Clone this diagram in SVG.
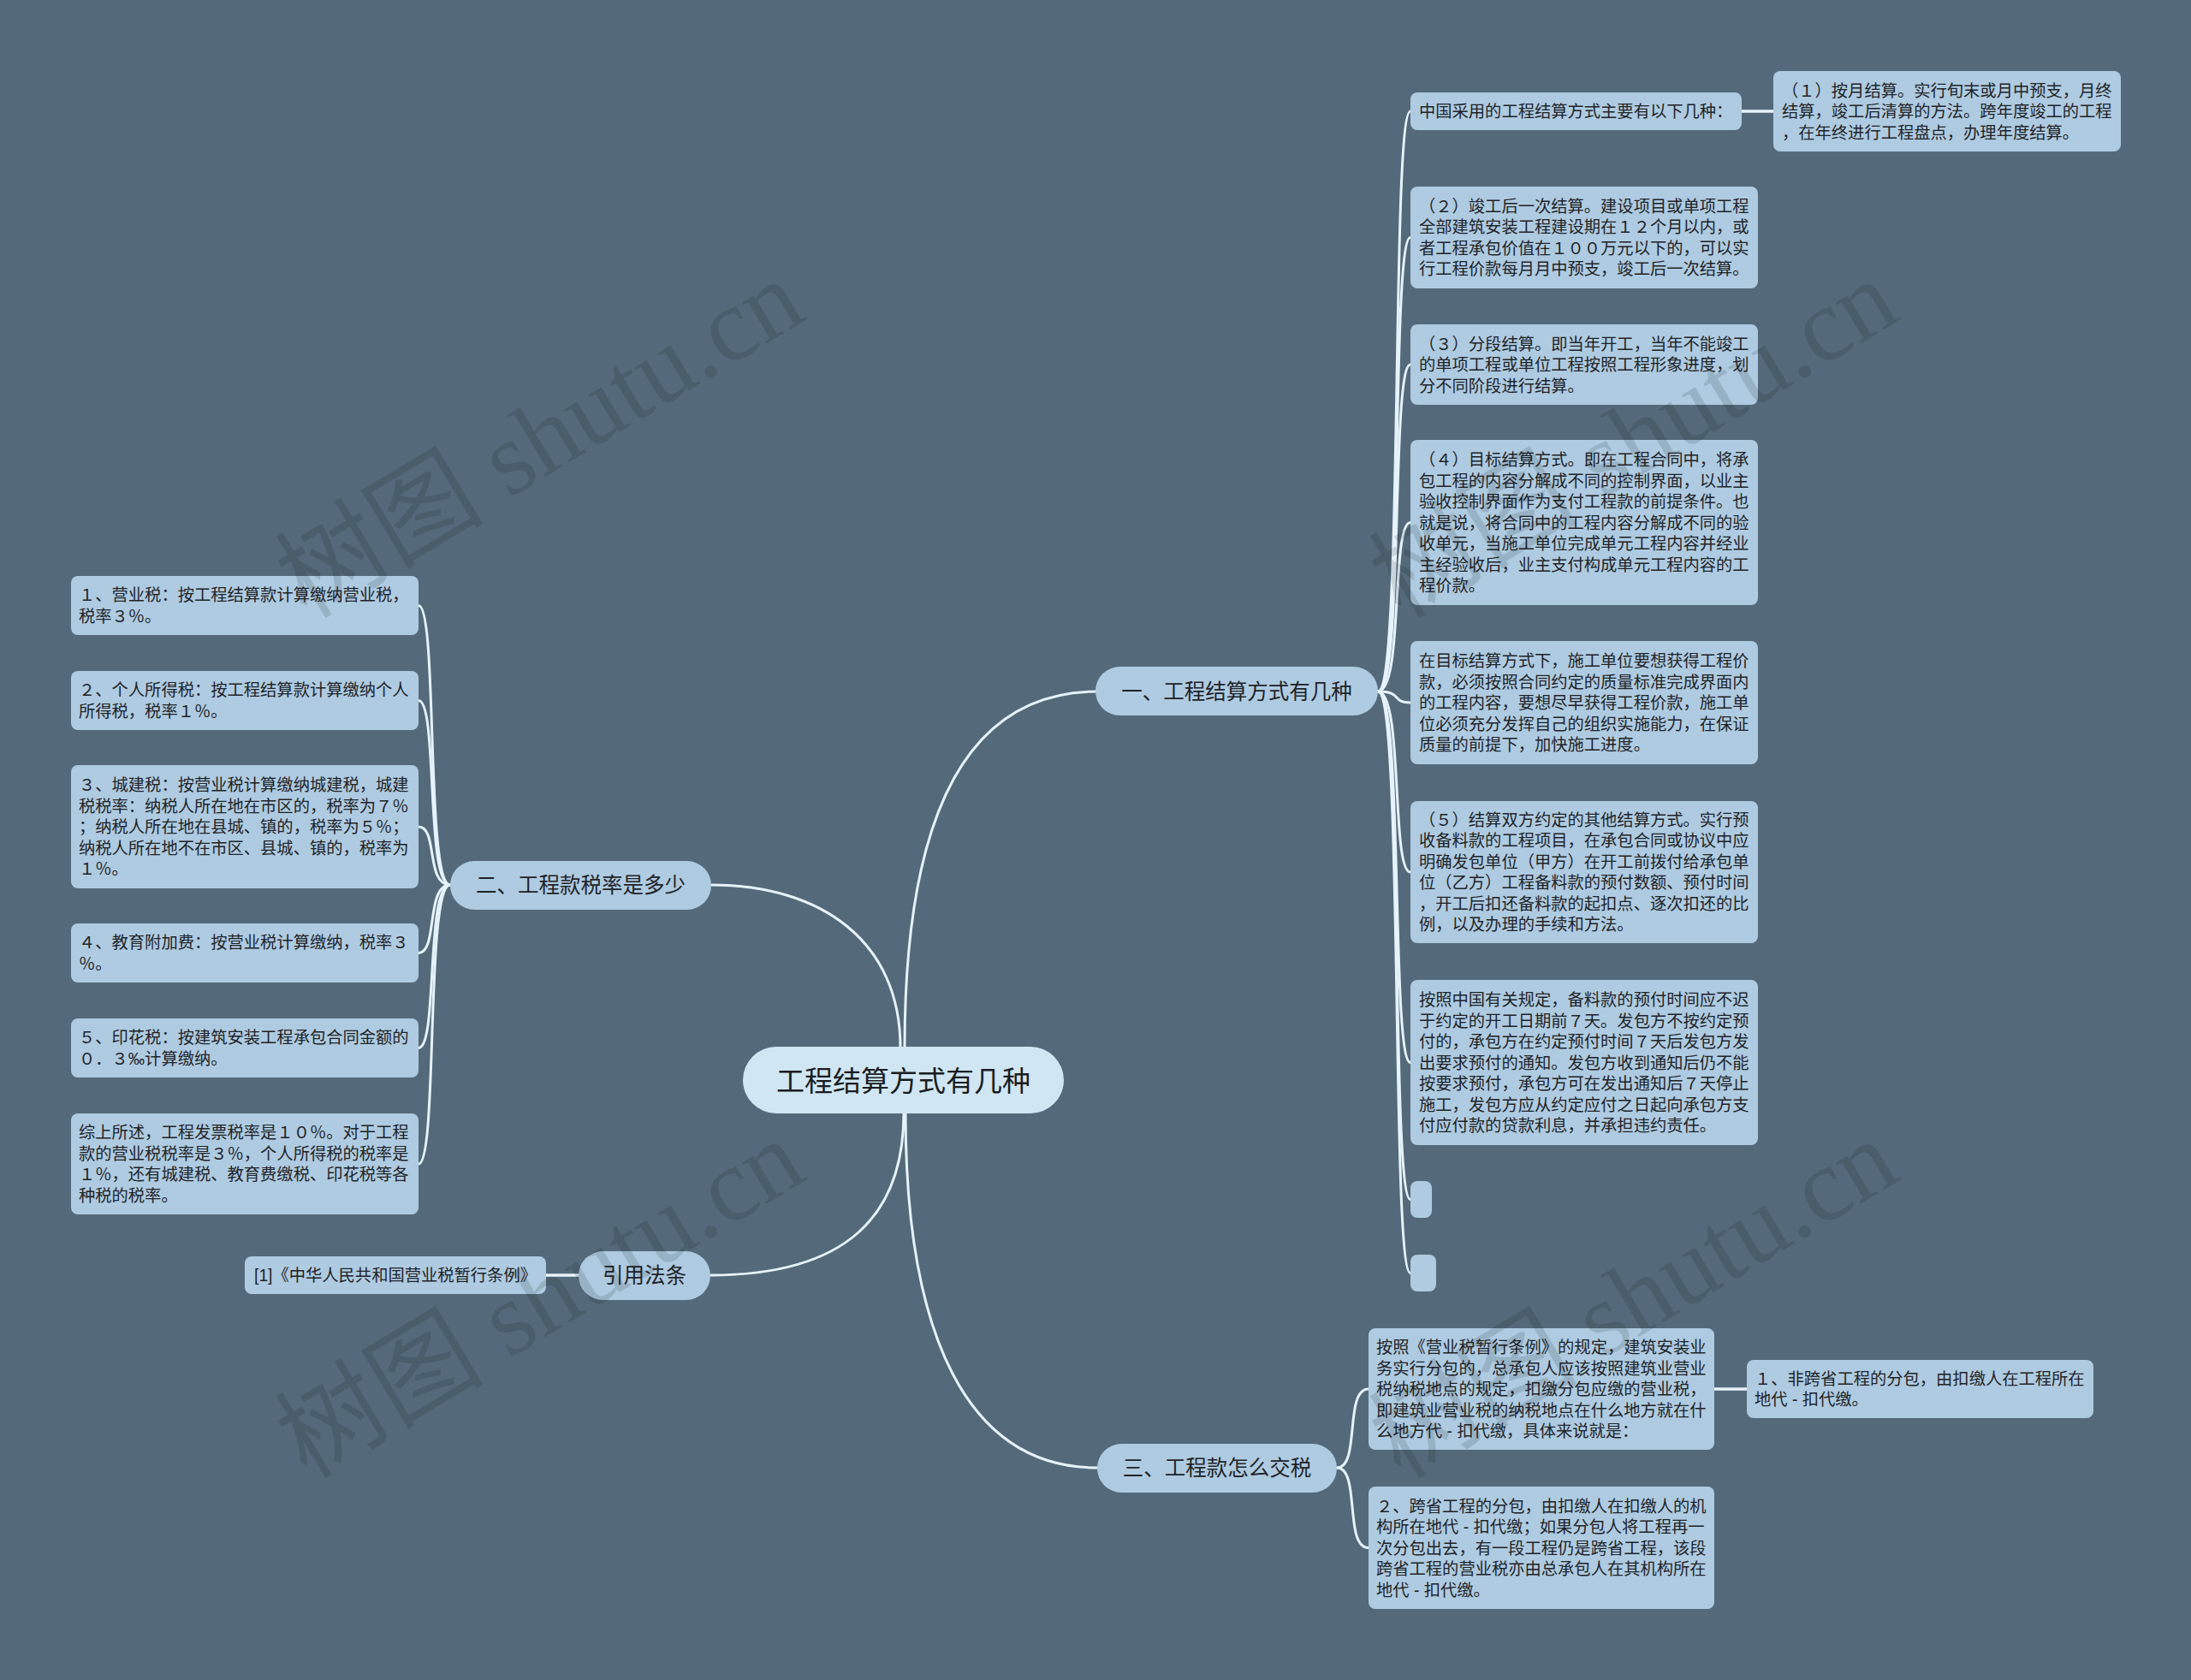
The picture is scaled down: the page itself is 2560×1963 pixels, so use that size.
<svg xmlns="http://www.w3.org/2000/svg" width="2560" height="1963" viewBox="0 0 2560 1963">
<style>
.bg{fill:#546a7a}
.leaf{fill:#aecbe1}
.br{fill:#aecbe1}
.root{fill:#d0e6f3}
.t{font-family:"Liberation Sans","Noto Sans CJK SC",sans-serif;font-size:19.3px;fill:#1f2328}
.tb{font-family:"Liberation Sans","Noto Sans CJK SC",sans-serif;font-size:24.5px;fill:#1f2328;text-anchor:middle}
.tr{font-family:"Liberation Sans","Noto Sans CJK SC",sans-serif;font-size:33px;fill:#1a1d21;text-anchor:middle}
.c{fill:none;stroke:#e6f3fa;stroke-width:3;stroke-linecap:round}
.wm{font-family:"Liberation Serif","Noto Sans CJK SC",serif;font-size:122px;fill:#000;fill-opacity:0.12;text-anchor:middle}
</style>
<rect class="bg" x="0" y="0" width="2560" height="1963"/>
<g id="connectors">
<path class="c" d="M1057,1224 C1057,950 1130,808 1282,808"/>
<path class="c" d="M1052,1224 C1052,1100 960,1034 831,1034"/>
<path class="c" d="M1056,1300 C1056,1420 990,1490 830,1490"/>
<path class="c" d="M1058,1300 C1058,1560 1130,1715 1282,1715"/>
<path class="c" d="M1610,808 C1640,808 1625,130 1648,130"/>
<path class="c" d="M1610,808 C1640,808 1625,277.5 1648,277.5"/>
<path class="c" d="M1610,808 C1640,808 1625,426 1648,426"/>
<path class="c" d="M1610,808 C1640,808 1625,610.5 1648,610.5"/>
<path class="c" d="M1610,808 C1640,808 1625,821 1648,821"/>
<path class="c" d="M1610,808 C1640,808 1625,1019 1648,1019"/>
<path class="c" d="M1610,808 C1640,808 1625,1241.5 1648,1241.5"/>
<path class="c" d="M1610,808 C1640,808 1625,1401.5 1648,1401.5"/>
<path class="c" d="M1610,808 C1640,808 1625,1487.5 1648,1487.5"/>
<path class="c" d="M526,1034 C497,1034 512,707.5 489,707.5"/>
<path class="c" d="M526,1034 C497,1034 512,818.5 489,818.5"/>
<path class="c" d="M526,1034 C497,1034 512,966 489,966"/>
<path class="c" d="M526,1034 C497,1034 512,1113.5 489,1113.5"/>
<path class="c" d="M526,1034 C497,1034 512,1224.5 489,1224.5"/>
<path class="c" d="M526,1034 C497,1034 512,1360 489,1360"/>
<path class="c" d="M1562,1715 C1590,1715 1570,1623 1599,1623"/>
<path class="c" d="M1562,1715 C1590,1715 1570,1808.5 1599,1808.5"/>
<path class="c" d="M2035,130 L2072,130" style="stroke-width:3.5"/>
<path class="c" d="M2003,1623 L2041,1623" style="stroke-width:3.5"/>
<path class="c" d="M638,1490 L676,1490" style="stroke-width:3.5"/>
</g>
<g id="root">
<rect class="root" x="868" y="1223" width="375" height="78" rx="39"/>
<text class="tr" x="1055.5" y="1274.5">工程结算方式有几种</text>
</g>
<g id="branch1">
<rect class="br" x="1280" y="779" width="330" height="57" rx="28.5"/>
<text class="tb" x="1445" y="817.3">一、工程结算方式有几种</text>
</g>
<g id="branch2">
<rect class="br" x="526" y="1006" width="305" height="57" rx="28.5"/>
<text class="tb" x="678.5" y="1043.3">二、工程款税率是多少</text>
</g>
<g id="branch3">
<rect class="br" x="1282" y="1687" width="280" height="57" rx="28.5"/>
<text class="tb" x="1422" y="1724.3">三、工程款怎么交税</text>
</g>
<g id="branch4">
<rect class="br" x="676" y="1462" width="154" height="57" rx="28.5"/>
<text class="tb" x="753" y="1499.3">引用法条</text>
</g>
<g id="r1">
<rect class="leaf" x="1648" y="108" width="387" height="44" rx="8"/>
<text class="t" x="1658" y="137">中国采用的工程结算方式主要有以下几种：</text>
</g>
<g id="r1a">
<rect class="leaf" x="2072" y="83" width="406" height="94" rx="8"/>
<text class="t"><tspan x="2082" y="112.5">（１）按月结算。实行旬末或月中预支，月终</tspan><tspan x="2082" y="137">结算，竣工后清算的方法。跨年度竣工的工程</tspan><tspan x="2082" y="161.5">，在年终进行工程盘点，办理年度结算。</tspan></text>
</g>
<g id="r2">
<rect class="leaf" x="1648" y="218" width="406" height="119" rx="8"/>
<text class="t"><tspan x="1658" y="247.75">（２）竣工后一次结算。建设项目或单项工程</tspan><tspan x="1658" y="272.25">全部建筑安装工程建设期在１２个月以内，或</tspan><tspan x="1658" y="296.75">者工程承包价值在１００万元以下的，可以实</tspan><tspan x="1658" y="321.25">行工程价款每月月中预支，竣工后一次结算。</tspan></text>
</g>
<g id="r3">
<rect class="leaf" x="1648" y="379" width="406" height="94" rx="8"/>
<text class="t"><tspan x="1658" y="408.5">（３）分段结算。即当年开工，当年不能竣工</tspan><tspan x="1658" y="433">的单项工程或单位工程按照工程形象进度，划</tspan><tspan x="1658" y="457.5">分不同阶段进行结算。</tspan></text>
</g>
<g id="r4">
<rect class="leaf" x="1648" y="514" width="406" height="193" rx="8"/>
<text class="t"><tspan x="1658" y="544">（４）目标结算方式。即在工程合同中，将承</tspan><tspan x="1658" y="568.5">包工程的内容分解成不同的控制界面，以业主</tspan><tspan x="1658" y="593">验收控制界面作为支付工程款的前提条件。也</tspan><tspan x="1658" y="617.5">就是说，将合同中的工程内容分解成不同的验</tspan><tspan x="1658" y="642">收单元，当施工单位完成单元工程内容并经业</tspan><tspan x="1658" y="666.5">主经验收后，业主支付构成单元工程内容的工</tspan><tspan x="1658" y="691">程价款。</tspan></text>
</g>
<g id="r5">
<rect class="leaf" x="1648" y="749" width="406" height="144" rx="8"/>
<text class="t"><tspan x="1658" y="779">在目标结算方式下，施工单位要想获得工程价</tspan><tspan x="1658" y="803.5">款，必须按照合同约定的质量标准完成界面内</tspan><tspan x="1658" y="828">的工程内容，要想尽早获得工程价款，施工单</tspan><tspan x="1658" y="852.5">位必须充分发挥自己的组织实施能力，在保证</tspan><tspan x="1658" y="877">质量的前提下，加快施工进度。</tspan></text>
</g>
<g id="r6">
<rect class="leaf" x="1648" y="936" width="406" height="166" rx="8"/>
<text class="t"><tspan x="1658" y="964.75">（５）结算双方约定的其他结算方式。实行预</tspan><tspan x="1658" y="989.25">收备料款的工程项目，在承包合同或协议中应</tspan><tspan x="1658" y="1013.75">明确发包单位（甲方）在开工前拨付给承包单</tspan><tspan x="1658" y="1038.25">位（乙方）工程备料款的预付数额、预付时间</tspan><tspan x="1658" y="1062.75">，开工后扣还备料款的起扣点、逐次扣还的比</tspan><tspan x="1658" y="1087.25">例，以及办理的手续和方法。</tspan></text>
</g>
<g id="r7">
<rect class="leaf" x="1648" y="1145" width="406" height="193" rx="8"/>
<text class="t"><tspan x="1658" y="1175">按照中国有关规定，备料款的预付时间应不迟</tspan><tspan x="1658" y="1199.5">于约定的开工日期前７天。发包方不按约定预</tspan><tspan x="1658" y="1224">付的，承包方在约定预付时间７天后发包方发</tspan><tspan x="1658" y="1248.5">出要求预付的通知。发包方收到通知后仍不能</tspan><tspan x="1658" y="1273">按要求预付，承包方可在发出通知后７天停止</tspan><tspan x="1658" y="1297.5">施工，发包方应从约定应付之日起向承包方支</tspan><tspan x="1658" y="1322">付应付款的贷款利息，并承担违约责任。</tspan></text>
</g>
<g id="r8">
<rect class="leaf" x="1648" y="1380" width="25" height="43" rx="8"/>
</g>
<g id="r9">
<rect class="leaf" x="1648" y="1466" width="30" height="43" rx="8"/>
</g>
<g id="l1">
<rect class="leaf" x="83" y="673" width="406" height="69" rx="8"/>
<text class="t"><tspan x="92" y="702.25">１、营业税：按工程结算款计算缴纳营业税，</tspan><tspan x="92" y="726.75">税率３％。</tspan></text>
</g>
<g id="l2">
<rect class="leaf" x="83" y="784" width="406" height="69" rx="8"/>
<text class="t"><tspan x="92" y="813.25">２、个人所得税：按工程结算款计算缴纳个人</tspan><tspan x="92" y="837.75">所得税，税率１％。</tspan></text>
</g>
<g id="l3">
<rect class="leaf" x="83" y="894" width="406" height="144" rx="8"/>
<text class="t"><tspan x="92" y="924">３、城建税：按营业税计算缴纳城建税，城建</tspan><tspan x="92" y="948.5">税税率：纳税人所在地在市区的，税率为７％</tspan><tspan x="92" y="973">；纳税人所在地在县城、镇的，税率为５％；</tspan><tspan x="92" y="997.5">纳税人所在地不在市区、县城、镇的，税率为</tspan><tspan x="92" y="1022">１％。</tspan></text>
</g>
<g id="l4">
<rect class="leaf" x="83" y="1079" width="406" height="69" rx="8"/>
<text class="t"><tspan x="92" y="1108.25">４、教育附加费：按营业税计算缴纳，税率３</tspan><tspan x="92" y="1132.75">％。</tspan></text>
</g>
<g id="l5">
<rect class="leaf" x="83" y="1190" width="406" height="69" rx="8"/>
<text class="t"><tspan x="92" y="1219.25">５、印花税：按建筑安装工程承包合同金额的</tspan><tspan x="92" y="1243.75">０．３‰计算缴纳。</tspan></text>
</g>
<g id="l6">
<rect class="leaf" x="83" y="1301" width="406" height="118" rx="8"/>
<text class="t"><tspan x="92" y="1330.25">综上所述，工程发票税率是１０％。对于工程</tspan><tspan x="92" y="1354.75">款的营业税税率是３％，个人所得税的税率是</tspan><tspan x="92" y="1379.25">１％，还有城建税、教育费缴税、印花税等各</tspan><tspan x="92" y="1403.75">种税的税率。</tspan></text>
</g>
<g id="law">
<rect class="leaf" x="286" y="1468" width="352" height="44" rx="8"/>
<text class="t" x="462" y="1497" text-anchor="middle">[1]《中华人民共和国营业税暂行条例》</text>
</g>
<g id="b1">
<rect class="leaf" x="1599" y="1552" width="404" height="142" rx="8"/>
<text class="t"><tspan x="1608" y="1581">按照《营业税暂行条例》的规定，建筑安装业</tspan><tspan x="1608" y="1605.5">务实行分包的，总承包人应该按照建筑业营业</tspan><tspan x="1608" y="1630">税纳税地点的规定，扣缴分包应缴的营业税，</tspan><tspan x="1608" y="1654.5">即建筑业营业税的纳税地点在什么地方就在什</tspan><tspan x="1608" y="1679">么地方代 - 扣代缴，具体来说就是：</tspan></text>
</g>
<g id="b1a">
<rect class="leaf" x="2041" y="1589" width="405" height="68" rx="8"/>
<text class="t"><tspan x="2050" y="1617.75">１、非跨省工程的分包，由扣缴人在工程所在</tspan><tspan x="2050" y="1642.25">地代 - 扣代缴。</tspan></text>
</g>
<g id="b2">
<rect class="leaf" x="1599" y="1737" width="404" height="143" rx="8"/>
<text class="t"><tspan x="1608" y="1766.5">２、跨省工程的分包，由扣缴人在扣缴人的机</tspan><tspan x="1608" y="1791">构所在地代 - 扣代缴；如果分包人将工程再一</tspan><tspan x="1608" y="1815.5">次分包出去，有一段工程仍是跨省工程，该段</tspan><tspan x="1608" y="1840">跨省工程的营业税亦由总承包人在其机构所在</tspan><tspan x="1608" y="1864.5">地代 - 扣代缴。</tspan></text>
</g>
<g id="watermarks">
<text class="wm" transform="translate(652,548) rotate(-31)">树图 shutu.cn</text>
<text class="wm" transform="translate(652,1553) rotate(-31)">树图 shutu.cn</text>
<text class="wm" transform="translate(1930,548) rotate(-31)">树图 shutu.cn</text>
<text class="wm" transform="translate(1930,1553) rotate(-31)">树图 shutu.cn</text>
</g>
</svg>
